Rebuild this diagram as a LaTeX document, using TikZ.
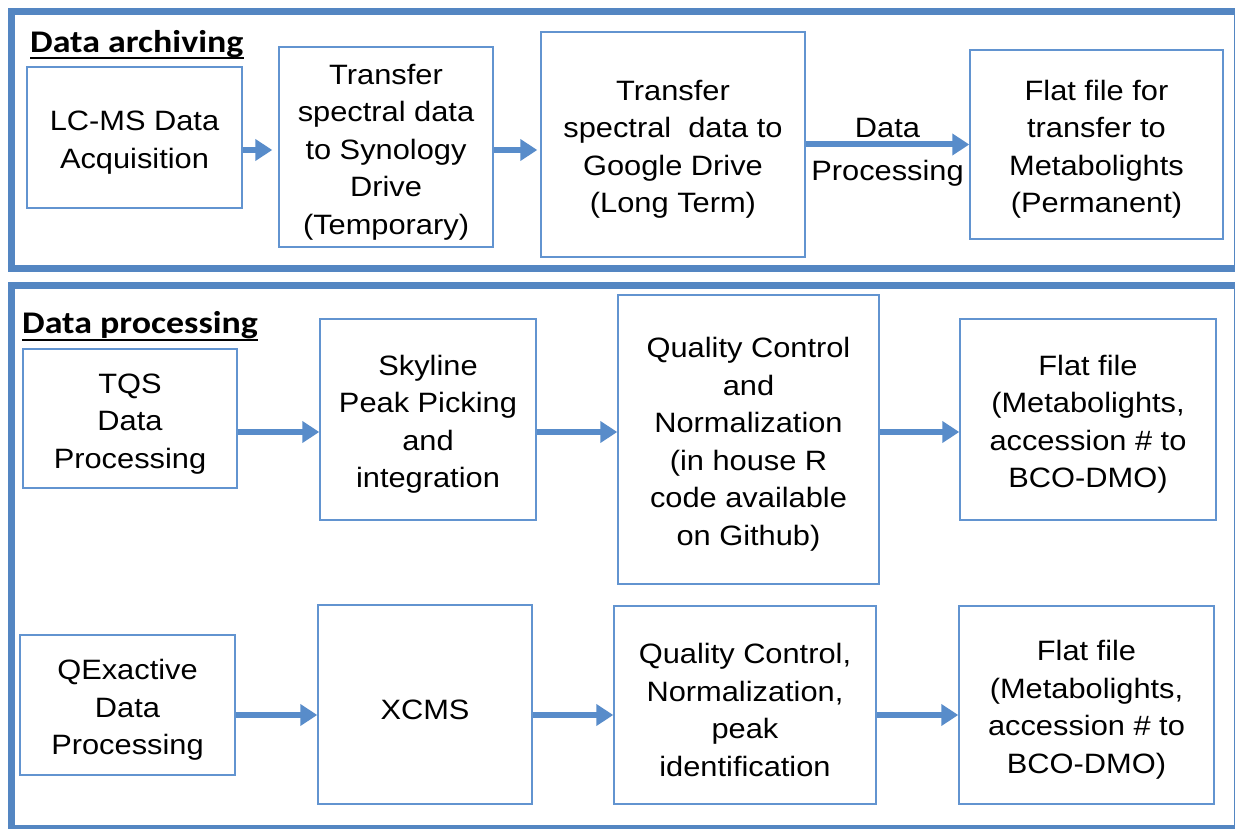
\documentclass[tikz,border=0pt]{standalone}
\usepackage{fontspec}
\setmainfont{Liberation Sans}[FakeStretch=1.1]
\newfontfamily\headfont{Carlito}[FakeStretch=1.14]
\usetikzlibrary{arrows.meta}
\definecolor{framec}{RGB}{84,134,194}
\definecolor{boxc}{RGB}{98,148,208}
\definecolor{arrc}{RGB}{88,140,202}
\newcommand{\topst}{\rule{0pt}{30pt}}
\begin{document}
\begin{tikzpicture}[x=1pt,y=-1pt,
  stepbox/.style={draw=boxc, line width=1.5pt, align=center, inner sep=0pt, font=\fontsize{28}{37.5}\selectfont},
  frame/.style={draw=framec, line width=7pt},
  arr/.style={draw=arrc, line width=6pt, -{Triangle[length=17pt,width=21pt]}},
  heading/.style={anchor=base west, inner sep=0pt, font=\headfont\bfseries\fontsize{31.5}{36}\selectfont},
  uline/.style={line width=2pt, draw=black},
  lbl/.style={inner sep=0pt, font=\fontsize{28}{37.5}\selectfont}]
\useasboundingbox (0,0) rectangle (1235,829);
\fill[white] (0,0) rectangle (1235,829);

% frames
\draw[frame] (11,12) rectangle (1237,269);
\draw[frame] (11,286) rectangle (1237,828);

% headings
\node[heading] (h1) at (30,53) {Data archiving};
\draw[uline] ([yshift=-5pt]h1.base west) -- ([yshift=-5pt]h1.base east);
\node[heading] (h2) at (22,334) {Data processing};
\draw[uline] ([yshift=-6pt]h2.base west) -- ([yshift=-6pt]h2.base east);

% top row
\node[stepbox, minimum width=215pt, minimum height=141pt] (B1) at (134.5,137.5) {\topst LC-MS Data\\Acquisition};
\node[stepbox, minimum width=214pt, minimum height=200pt] (B2) at (386,147) {\topst Transfer\\spectral data\\to Synology\\Drive\\(Temporary)};
\node[stepbox, minimum width=264pt, minimum height=225pt] (B3) at (673,144.5) {\topst Transfer\\spectral\ \ data to\\Google Drive\\(Long Term)};
\node[stepbox, minimum width=253pt, minimum height=189pt] (B4) at (1096.5,144.5) {\topst Flat file for\\transfer to\\Metabolights\\(Permanent)};

\draw[arr] ([yshift=-12.5pt]B1.east) -- ([yshift=-3pt,xshift=-6pt]B2.west);
\draw[arr] ([yshift=-3pt]B2.east) -- ([yshift=-5.5pt,xshift=-3pt]B3.west);
\draw[arr] (B3.east) -- (B4.west)
  node[midway, above=4pt, lbl] (l1) {Data}
  node[midway, below=13pt, lbl] (l2) {Processing};

% middle row
\node[stepbox, minimum width=214pt, minimum height=139pt] (C1) at (130,418.5) {\topst TQS\\Data\\Processing};
\node[stepbox, minimum width=216pt, minimum height=201pt] (C2) at (428,419.5) {\topst Skyline\\Peak Picking\\and\\integration};
\node[stepbox, minimum width=261pt, minimum height=289pt] (C3) at (748.5,439.5) {\topst Quality Control\\and\\Normalization\\(in house R\\code available\\on Github)};
\node[stepbox, minimum width=256pt, minimum height=201pt] (C4) at (1088,419.5) {\topst Flat file\\(Metabolights,\\accession \# to\\BCO-DMO)};

\draw[arr] ([yshift=-13.5pt]C1.east) -- ([yshift=-12.5pt]C2.west);
\draw[arr] ([yshift=-12.5pt]C2.east) -- ([yshift=7.5pt]C3.west);
\draw[arr] ([yshift=7.5pt]C3.east) -- ([yshift=-12.5pt]C4.west);

% bottom row
\node[stepbox, minimum width=215pt, minimum height=140pt] (D1) at (127.5,705) {\topst QExactive\\Data\\Processing};
\node[stepbox, minimum width=214pt, minimum height=199pt] (D2) at (425,704.5) {\topst XCMS};
\node[stepbox, minimum width=262pt, minimum height=198pt] (D3) at (745,705) {\topst Quality Control,\\Normalization,\\peak\\identification};
\node[stepbox, minimum width=255pt, minimum height=198pt] (D4) at (1086.5,705) {\topst Flat file\\(Metabolights,\\accession \# to\\BCO-DMO)};

\draw[arr] ([yshift=-10pt]D1.east) -- ([yshift=-10.5pt]D2.west);
\draw[arr] ([yshift=-10.5pt]D2.east) -- ([yshift=-10pt]D3.west);
\draw[arr] ([yshift=-10pt]D3.east) -- ([yshift=-10pt]D4.west);
\end{tikzpicture}
\end{document}
